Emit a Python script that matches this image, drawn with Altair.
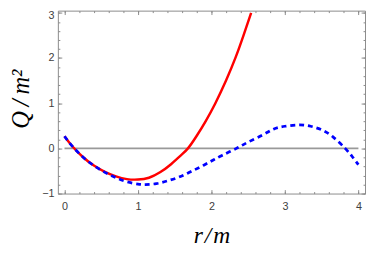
import altair as alt
import pandas as pd

# ---- data ----
r_red = [0, 0.1, 0.25, 0.4, 0.55, 0.7, 0.85, 1.0, 1.15, 1.3, 1.45, 1.58, 1.68,
         1.8, 1.92, 2.05, 2.2, 2.33, 2.44, 2.54]
q_red = [0.27, 0.06, -0.19, -0.38, -0.52, -0.62, -0.68, -0.69, -0.65, -0.53,
         -0.35, -0.16, 0.0, 0.28, 0.60, 0.99, 1.51, 2.02, 2.52, 3.0]

r_blue = [0, 0.1, 0.25, 0.4, 0.55, 0.7, 0.85, 1.0, 1.1, 1.25, 1.4, 1.55, 1.7,
          1.85, 2.0, 2.15, 2.34, 2.5, 2.7, 2.85, 3.0, 3.19, 3.35, 3.5, 3.65,
          3.82, 3.92, 4.0]
q_blue = [0.27, 0.06, -0.19, -0.38, -0.53, -0.65, -0.74, -0.79, -0.80, -0.78,
          -0.72, -0.64, -0.53, -0.41, -0.28, -0.15, 0.0, 0.14, 0.30, 0.43,
          0.49, 0.52, 0.49, 0.41, 0.26, 0.0, -0.19, -0.36]

zero_r = [0, 4]
zero_q = [0, 0]

x_major = [0, 1, 2, 3, 4]
y_major = [-1, 0, 1, 2, 3]
x_minor = [round(0.2 * i, 1) for i in range(21)]
y_minor = [round(-1 + 0.2 * i, 1) for i in range(21)]

x_title = "r\u200a/\u200am"
y_title = "Q\u2009/\u2009m²"

# ---- styling ----
FRAME = "#8a8a8a"
LABEL = "#404040"
LFONT = "Liberation Sans"
TFONT = "Liberation Serif"
W, H = 314, 187

red_df = pd.DataFrame({"r": r_red, "q": q_red})
blue_df = pd.DataFrame({"r": r_blue, "q": q_blue})
zero_df = pd.DataFrame({"r": zero_r, "q": zero_q})

xs = alt.Scale(domain=[-0.09, 4.09], nice=False, zero=False)
ys = alt.Scale(domain=[-1, 3.05], nice=False, zero=False)


def tick_axis(orient, values, size):
    return alt.Axis(orient=orient, values=values, labels=False, domain=False,
                    grid=False, ticks=True, tickSize=size, tickColor=FRAME,
                    tickWidth=1, offset=-size, title="")


x_lab = alt.Axis(orient="bottom", values=x_major, ticks=False, tickSize=0,
                 domain=False, grid=False, labelFont=LFONT, labelFontSize=11,
                 labelColor=LABEL, labelPadding=7, labelFlush=False,
                 labelOverlap=False, format="d",
                 title=x_title, titleFont=TFONT, titleFontStyle="italic",
                 titleFontWeight="normal", titleFontSize=24, titleColor="black",
                 titleX=W / 2, titleY=50, titleBaseline="alphabetic",
                 titleAlign="center")

y_lab = alt.Axis(orient="left", values=y_major, ticks=False, tickSize=0,
                 domain=False, grid=False, labelFont=LFONT, labelFontSize=11,
                 labelColor=LABEL, labelPadding=4, labelFlush=False,
                 labelOverlap=False, format="d",
                 labelOffset=alt.ExprRef("datum.value == 3 ? 3 : 0"),
                 title=y_title, titleFont=TFONT, titleFontStyle="italic",
                 titleFontWeight="normal", titleFontSize=25, titleColor="black",
                 titleAngle=270, titleX=-30, titleY=90,
                 titleBaseline="alphabetic", titleAlign="center")

zero = alt.Chart(zero_df).mark_line(color="#999999", strokeWidth=2).encode(
    x=alt.X("r:Q", scale=xs, axis=None),
    y=alt.Y("q:Q", scale=ys, axis=None),
)

red = alt.Chart(red_df).mark_line(color="#ff0000", strokeWidth=2.5,
                                  interpolate="natural").encode(
    x=alt.X("r:Q", scale=xs, axis=x_lab),
    y=alt.Y("q:Q", scale=ys, axis=y_lab),
)

blue = alt.Chart(blue_df).mark_line(color="#0000ff", strokeWidth=2.8,
                                    strokeDash=[5, 4],
                                    interpolate="natural").encode(
    x=alt.X("r:Q", scale=xs, axis=tick_axis("bottom", x_major, 4)),
    y=alt.Y("q:Q", scale=ys, axis=tick_axis("left", y_major, 4)),
)


def ghost(xa, ya):
    return alt.Chart(red_df).mark_line(opacity=0).encode(
        x=alt.X("r:Q", scale=xs, axis=xa),
        y=alt.Y("q:Q", scale=ys, axis=ya),
    )


g1 = ghost(tick_axis("bottom", x_minor, 2), tick_axis("left", y_minor, 2))
g2 = ghost(tick_axis("top", x_major, 4), tick_axis("right", y_major, 4))
g3 = ghost(tick_axis("top", x_minor, 2), tick_axis("right", y_minor, 2))

chart = (
    alt.layer(zero, red, blue, g1, g2, g3)
    .resolve_scale(x="shared", y="shared")
    .resolve_axis(x="independent", y="independent")
    .properties(width=W, height=H, autosize=alt.AutoSizeParams(type="none"),
                padding={"left": 51, "top": 0, "right": 1, "bottom": 55},
                background="white")
    .configure_view(stroke=FRAME, strokeWidth=1)
)

chart.save("out.html", embed_options={"renderer": "svg", "actions": False})
